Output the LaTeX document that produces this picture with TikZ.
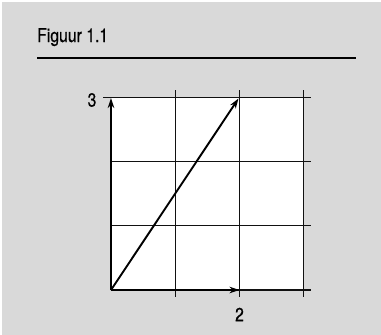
\documentclass[tikz,border=0pt]{standalone}
\usepackage{fontspec}
\setmainfont{TeX Gyre Heros}[FakeStretch=0.83,FakeBold=0.6]
\usetikzlibrary{arrows.meta}
\definecolor{panel}{HTML}{D9D9D9}
\definecolor{gridc}{HTML}{111111}
\begin{document}
\begin{tikzpicture}[x=1pt,y=-1pt,
  gridline/.style={draw=gridc,line width=1.4pt},
  vec/.style={draw=black,line width=2.3pt,-{Stealth[length=10pt,width=6.5pt]}},
  diag/.style={draw=black,line width=1.9pt,-{Stealth[length=10pt,width=6.5pt]}},
  lab/.style={font=\fontsize{19}{20}\selectfont,inner sep=0pt}]
\useasboundingbox (0,0) rectangle (381,335);
\fill[white] (0,0) rectangle (381,335);
\fill[panel] (1.5,1.5) rectangle (381,335);
\node[lab,anchor=base west] (title) at (37,42) {Figuur 1.1};
\draw[line width=2pt] (37,58) coordinate (r1) -- (356,58) coordinate (r2);
% grid area
\fill[white] (111,97.5) rectangle (303.5,290);
% horizontal lines
\draw[gridline] (103,97.5) -- (311,97.5);
\draw[gridline] (111,161.5) -- (311,161.5);
\draw[gridline] (111,225.5) -- (311,225.5);
\draw[gridline] (111,290) -- (311,290);
% vertical lines
\draw[gridline] (175.5,90) -- (175.5,297);
\draw[gridline] (239.5,90) -- (239.5,297);
\draw[gridline] (303.5,90) -- (303.5,297);
% vectors
\coordinate (O) at (111,290);
\coordinate (Y) at (111,98);
\coordinate (X) at (239.5,290);
\coordinate (P) at (238.5,98.5);
\draw[vec] (O) -- (Y);
\draw[vec] (O) -- (X);
\draw[diag] (O) -- (P);
\node[lab] (three) at (92,100) {3};
\node[lab] (two) at (239.5,314.5) {2};
\end{tikzpicture}
\end{document}
